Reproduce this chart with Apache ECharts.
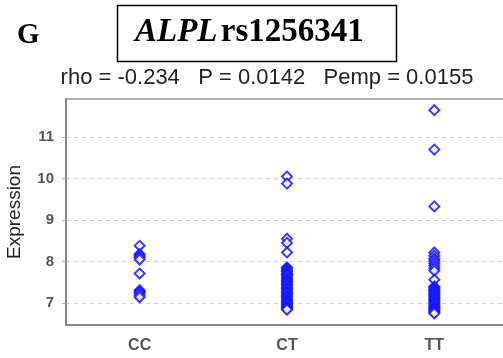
<!DOCTYPE html>
<html><head><meta charset="utf-8">
<script src="https://cdn.jsdelivr.net/npm/echarts@6/dist/echarts.min.js"></script>
<style>html,body{margin:0;padding:0;background:#fff}#c{width:503px;height:358px}</style>
</head><body><div id="c"></div>
<script>
const categories = ['CC', 'CT', 'TT'];
const yTicks = [7, 8, 9, 10, 11];
const ccValues = [8.38, 8.18, 8.14, 8.10, 8.05, 7.71, 7.31, 7.27, 7.24, 7.19, 7.14];
const ctValues = [10.05, 9.88, 8.55, 8.45, 8.22,
  7.86, 7.83, 7.79, 7.76, 7.72, 7.69, 7.66, 7.62, 7.58, 7.55, 7.52, 7.48, 7.45, 7.42, 7.38,
  7.35, 7.32, 7.28, 7.25, 7.22, 7.18, 7.15, 7.12, 7.08, 7.05, 7.02, 6.98, 6.95, 6.92, 6.89, 6.86, 6.84];
const ttValues = [11.65, 10.7, 9.33, 8.22, 8.14, 8.07, 8.02, 7.96, 7.90, 7.84, 7.78, 7.56,
  7.40, 7.37, 7.33, 7.30, 7.27, 7.23, 7.20, 7.17, 7.13, 7.10, 7.07, 7.03, 7.00, 6.97, 6.93,
  6.90, 6.87, 6.84, 6.81, 6.78, 6.75];
const subtitle = 'rho = -0.234   P = 0.0142   Pemp = 0.0155';

const groups = [ccValues, ctValues, ttValues];
const data = [];
groups.forEach((vals, i) => vals.forEach(v => data.push([categories[i], v])));

const chart = echarts.init(document.getElementById('c'), null, {renderer: 'canvas'});
chart.setOption({
  animation: false,
  backgroundColor: '#fff',
  grid: {left: 66, top: 99, right: -5, bottom: 33, show: true, borderColor: '#b0b0b0', borderWidth: 2,
    containLabel: false, outerBoundsMode: 'none'},
  title: {
    text: subtitle, left: 262, top: 62, textAlign: 'center',
    textStyle: {fontFamily: 'Liberation Sans, Arial', fontSize: 22, fontWeight: 'normal', color: '#222'}
  },
  graphic: [
    {type: 'text', left: 17, top: 21, style: {text: 'G', font: 'bold 29px "Liberation Serif"', fill: '#000'}},
    {type: 'rect', shape: {x: 117.5, y: 5.5, width: 279, height: 56}, style: {fill: 'none', stroke: '#000', lineWidth: 1.5}},
    {type: 'text', left: 135, top: 16, style: {
      rich: {i: {font: 'italic bold 33px "Liberation Serif"', fill: '#000'}, b: {font: 'bold 33px "Liberation Serif"', fill: '#000'}},
      text: '{i|ALPL} {b|rs1256341}'}}
  ],
  xAxis: {
    type: 'category', data: categories, boundaryGap: true,
    axisLine: {lineStyle: {color: '#888', width: 2}},
    axisTick: {alignWithLabel: true, length: 3, lineStyle: {color: '#888'}},
    axisLabel: {margin: 13, fontFamily: 'Liberation Sans, Arial', fontSize: 16, fontWeight: 'bold', color: '#555'},
    splitLine: {show: false}
  },
  yAxis: {
    type: 'value', min: 6.47, max: 11.92,
    name: 'Expression', nameLocation: 'middle', nameGap: 42, nameRotate: 90,
    nameTextStyle: {fontFamily: 'Liberation Sans, Arial', fontSize: 19, color: '#222'},
    axisLine: {show: true, lineStyle: {color: '#888', width: 2}},
    axisTick: {show: true, length: 4, customValues: yTicks, lineStyle: {color: '#aaa'}},
    axisLabel: {margin: 12, fontFamily: 'Liberation Sans, Arial', fontSize: 15, fontWeight: 'bold', color: '#555',
      customValues: yTicks, formatter: v => String(v)},
    splitLine: {show: true, lineStyle: {color: '#d0d0d0', type: [4, 4], width: 1}}
  },
  series: [{
    type: 'scatter', data: data, symbol: 'emptyDiamond', symbolSize: 10,
    itemStyle: {color: '#0a0aff', borderWidth: 1.8}
  }]
});
</script></body></html>
